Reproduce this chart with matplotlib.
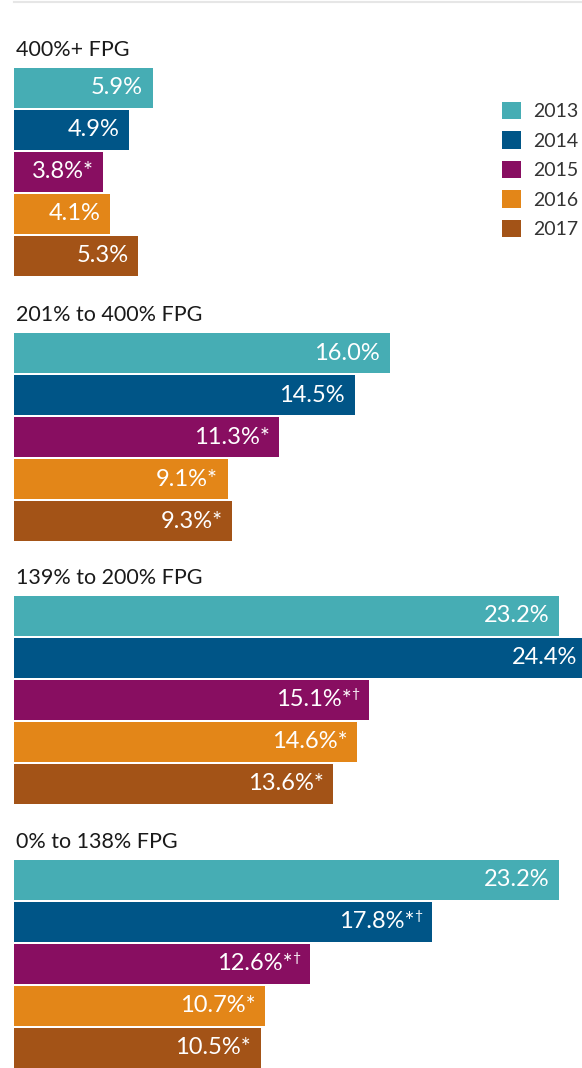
import matplotlib
matplotlib.use("Agg")
import matplotlib.pyplot as plt
from matplotlib.patches import Patch

plt.rcParams["font.family"] = ["Lato", "DejaVu Sans"]

# ------------------------------------------------------------
# Data
# ------------------------------------------------------------
groups = ["400%+ FPG", "201% to 400% FPG", "139% to 200% FPG", "0% to 138% FPG"]
years = ["2013", "2014", "2015", "2016", "2017"]
colours = ["#46adb4", "#005587", "#880e61", "#e38618", "#a35317"]

values = [
    [5.9, 4.9, 3.8, 4.1, 5.3],
    [16.0, 14.5, 11.3, 9.1, 9.3],
    [23.2, 24.4, 15.1, 14.6, 13.6],
    [23.2, 17.8, 12.6, 10.7, 10.5],
]
# "*" = significant vs 2013, "†" = significant vs previous year
stars = [
    [False, False, True, False, False],
    [False, False, True, True, True],
    [False, False, True, True, True],
    [False, True, True, True, True],
]
daggers = [
    [False, False, False, False, False],
    [False, False, False, False, False],
    [False, False, True, False, False],
    [False, True, True, False, False],
]

# ------------------------------------------------------------
# Layout (pixels, figure is 582 x 1068 at 100 dpi)
# ------------------------------------------------------------
W, H = 582, 1068
px_per_unit = 23.49
left_px = 14
group_top = [68, 333, 596, 860]
bar_pitch = 42
bar_h = 40

fig = plt.figure(figsize=(W / 100, H / 100), dpi=100)
ax = fig.add_axes([0, 0, 1, 1])
ax.set_xlim(-left_px / px_per_unit, (W - left_px) / px_per_unit)
ax.set_ylim(H, 0)
ax.axis("off")

# thin grey rule at the top
ax.plot([0, 30], [1.5, 1.5], color="#e6e6e6", lw=1.5, clip_on=True)

for g, name in enumerate(groups):
    top = group_top[g]
    ax.text(0.08, top - 18, name, fontsize=15.5, color="#1a1a1a",
            ha="left", va="center")
    for i, v in enumerate(values[g]):
        yc = top + i * bar_pitch + bar_h / 2
        ax.barh(yc, v, height=bar_h, left=0, color=colours[i])
        label = f"{v:.1f}%" + ("*" if stars[g][i] else "")
        off = -7
        if daggers[g][i]:
            ax.annotate("\u2020", (v, yc), xytext=(-7, 4), textcoords="offset points",
                        ha="right", va="center", fontsize=10, color="white",
                        annotation_clip=False)
            off = -12.5
        ax.annotate(label, (v, yc), xytext=(off, 0), textcoords="offset points",
                    ha="right", va="center", fontsize=17, color="white",
                    annotation_clip=False)

handles = [Patch(facecolor=c, edgecolor="none") for c in colours]
fig.legend(handles, years, loc="upper left", bbox_to_anchor=(502 / W, 1 - 102 / H),
           frameon=False, fontsize=14, handlelength=1.0, handleheight=1.0,
           handletextpad=0.6, labelspacing=0.57, borderaxespad=0, borderpad=0,
           labelcolor="#333333")

plt.savefig("out.png", dpi=100)
plt.close()
